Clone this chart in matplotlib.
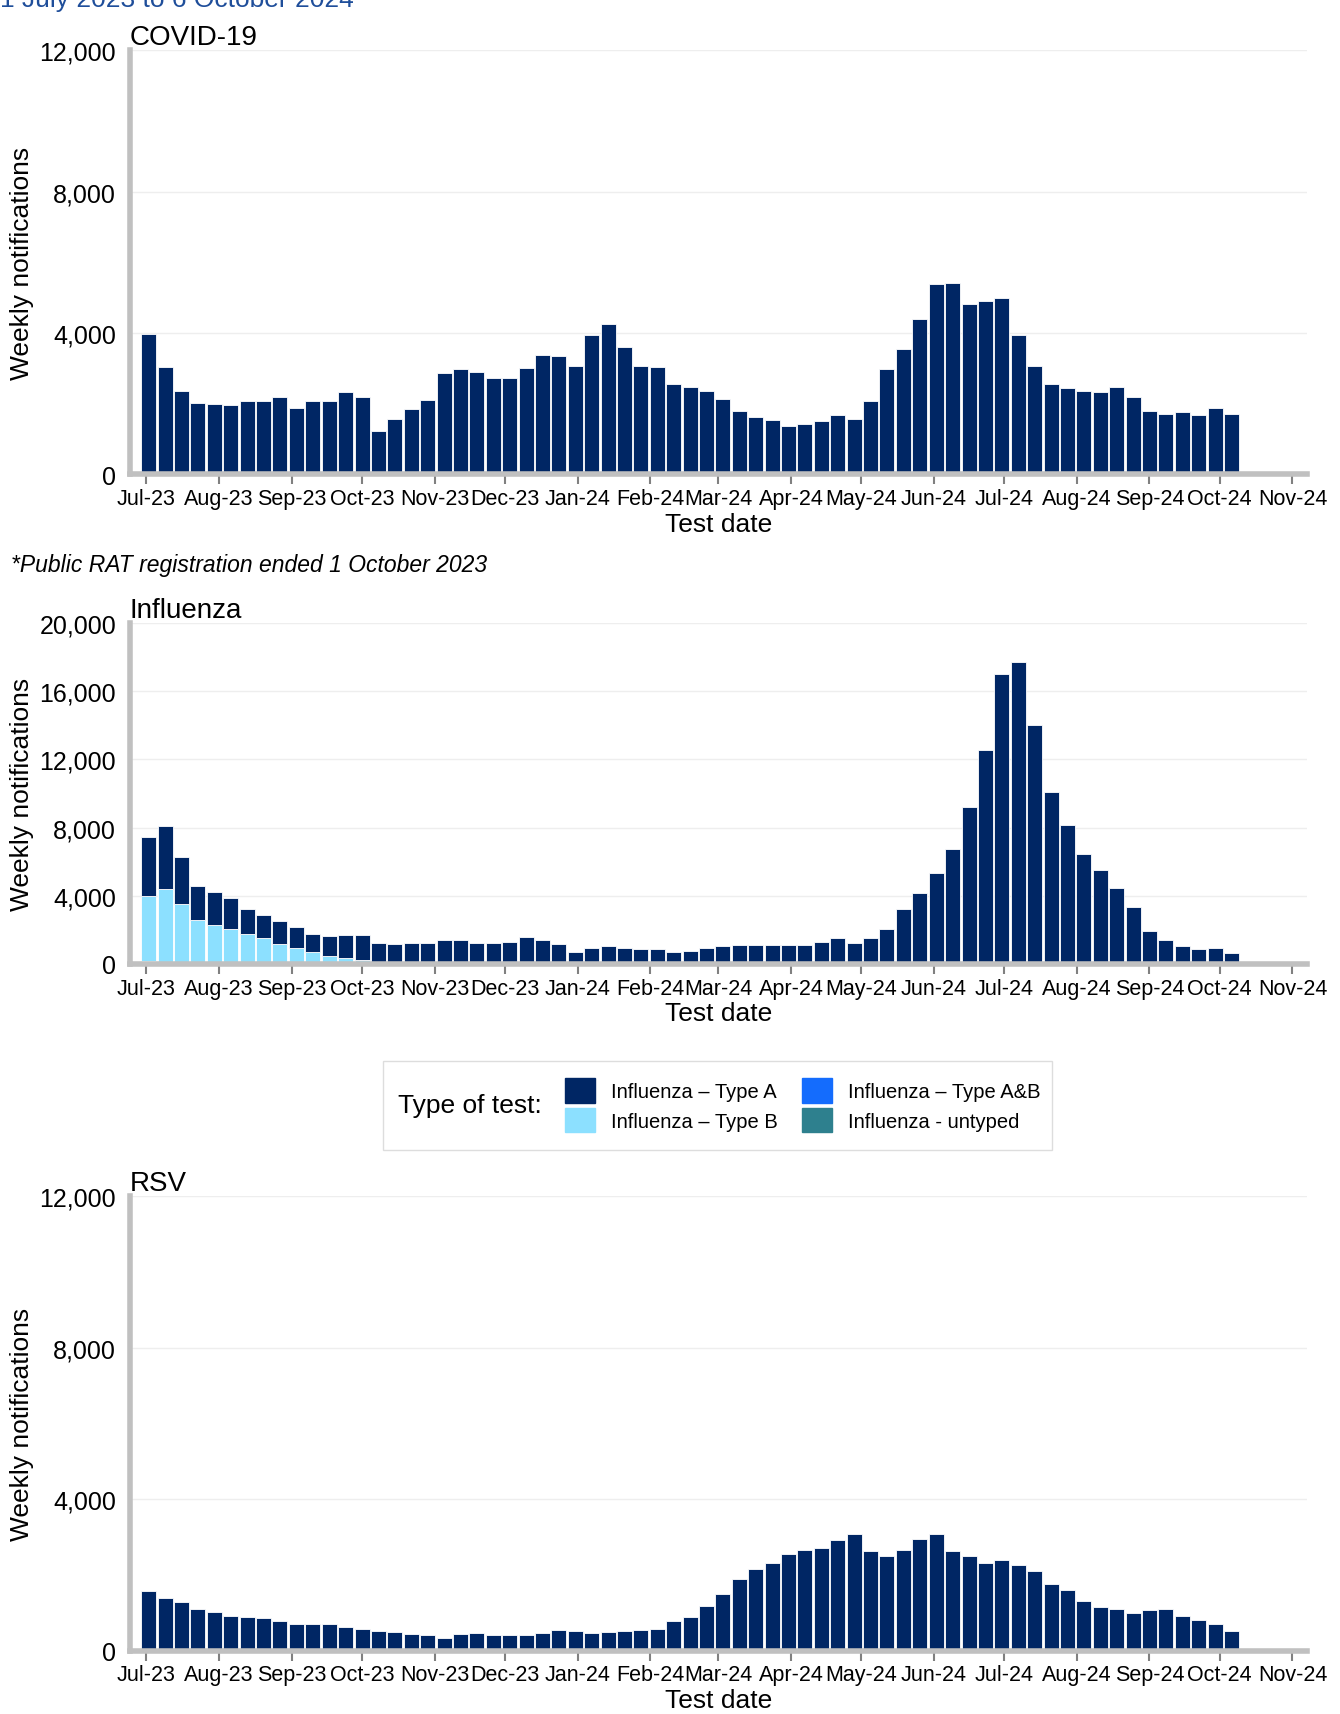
import numpy as np
import pandas as pd
import matplotlib
matplotlib.use('Agg')
import matplotlib.pyplot as plt
import matplotlib.dates as mdates
from matplotlib.patches import Patch, Rectangle

plt.rcParams['font.family'] = ['Liberation Sans', 'DejaVu Sans']

weeks = pd.date_range('2023-07-02', periods=67, freq='7D')

covid = [3970, 3040, 2360, 2010, 1980, 1950, 2080, 2080, 2170, 1860, 2080, 2080,
         2330, 2170, 1210, 1550, 1830, 2110, 2850, 2980, 2880, 2730, 2730, 3010,
         3380, 3350, 3070, 3940, 4250, 3600, 3070, 3040, 2540, 2480, 2360, 2140,
         1800, 1610, 1520, 1360, 1420, 1490, 1670, 1550, 2080, 2980, 3540, 4400,
         5370, 5400, 4810, 4900, 5000, 3940, 3070, 2540, 2450, 2360, 2330, 2480,
         2170, 1800, 1710, 1770, 1670, 1860, 1710]

flu_total = [7420, 8060, 6260, 4580, 4190, 3870, 3230, 2840, 2520, 2130, 1740, 1610,
             1680, 1680, 1230, 1160, 1230, 1230, 1420, 1420, 1230, 1230, 1290, 1550,
             1420, 1160, 710, 900, 1030, 900, 840, 840, 710, 770, 900, 1030,
             1100, 1100, 1100, 1100, 1100, 1290, 1480, 1230, 1480, 2060, 3230, 4130,
             5350, 6710, 9220, 12580, 17030, 17740, 14000, 10060, 8130, 6450, 5480, 4450,
             3350, 1940, 1420, 1030, 840, 900, 650]
flu_b = [3850, 4350, 3390, 2520, 2260, 2060, 1740, 1480, 1160, 900, 710, 450,
         320, 190, 60] + [0] * 52
flu_untyped = [150, 40, 30] + [0] * 64
flu_ab = [0, 0, 60, 30] + [0] * 63

rsv = [1570, 1400, 1290, 1090, 1030, 920, 890, 860, 770, 710, 690, 690,
       630, 570, 510, 490, 430, 400, 340, 430, 460, 400, 400, 400,
       460, 540, 510, 460, 490, 510, 540, 570, 770, 890, 1170, 1490,
       1890, 2140, 2310, 2540, 2660, 2720, 2920, 3090, 2630, 2490, 2660, 2940,
       3090, 2630, 2490, 2310, 2400, 2260, 2090, 1770, 1600, 1310, 1140, 1110,
       1000, 1060, 1090, 920, 800, 710, 510]

NAVY = '#002664'
LIGHT = '#8CE0FF'
BLUE = '#146CFD'
TEAL = '#2E808E'
GREY = '#C0C0C0'


def style_axis(ax, ymax, step, title):
    ax.set_ylim(0, ymax)
    ax.set_yticks(np.arange(0, ymax + 1, step))
    ax.yaxis.set_major_formatter(matplotlib.ticker.FuncFormatter(lambda v, p: f'{v:,.0f}'))
    ax.set_xlim(pd.Timestamp('2023-06-24'), pd.Timestamp('2024-11-07'))
    ax.xaxis.set_major_locator(mdates.MonthLocator())
    ax.xaxis.set_major_formatter(mdates.DateFormatter('%b-%y'))
    ax.grid(axis='y', color='#EEEEEE', linewidth=1)
    ax.set_axisbelow(True)
    for s in ('top', 'right'):
        ax.spines[s].set_visible(False)
    for s in ('left', 'bottom'):
        ax.spines[s].set_color(GREY)
        ax.spines[s].set_linewidth(4)
    ax.tick_params(axis='x', length=7, width=1.5, color='#808080', labelsize=15.5, pad=3)
    ax.tick_params(axis='y', length=0, labelsize=18, pad=10)
    ax.set_xlabel('Test date', fontsize=19, labelpad=2)
    ax.set_ylabel('Weekly notifications', fontsize=19)
    ax.set_title(title, loc='left', fontsize=20, pad=2)


fig = plt.figure(figsize=(13.4, 17.15), dpi=100)
bw = 6.4

ax1 = fig.add_axes([0.097, 0.723, 0.878, 0.247])
ax1.bar(weeks, covid, width=bw, color=NAVY, edgecolor='white', linewidth=0.6)
style_axis(ax1, 12000, 4000, 'COVID-19')

ax2 = fig.add_axes([0.097, 0.4375, 0.878, 0.1985])
untyped = np.array(flu_untyped)
ab = np.array(flu_ab)
b = np.array(flu_b)
a = np.array(flu_total) - b - untyped - ab
ax2.bar(weeks, untyped, width=bw, color=TEAL, edgecolor='white', linewidth=0.6)
ax2.bar(weeks, ab, bottom=untyped, width=bw, color=BLUE, edgecolor='white', linewidth=0.6)
ax2.bar(weeks, b, bottom=untyped + ab, width=bw, color=LIGHT, edgecolor='white', linewidth=0.6)
ax2.bar(weeks, a, bottom=untyped + ab + b, width=bw, color=NAVY, edgecolor='white', linewidth=0.6)
style_axis(ax2, 20000, 4000, 'Influenza')

ax3 = fig.add_axes([0.097, 0.037, 0.878, 0.265])
ax3.bar(weeks, rsv, width=bw, color=NAVY, edgecolor='white', linewidth=0.6)
style_axis(ax3, 12000, 4000, 'RSV')

fig.text(0.0, 1.0, '1 July 2023 to 6 October 2024', color='#1F4E9A', fontsize=19, va='center')
fig.text(0.008, 0.670, '*Public RAT registration ended 1 October 2023',
         fontsize=16.5, style='italic', va='center')

# legend: frame, title on the left, 2x2 entries
fig.patches.append(Rectangle((0.286, 0.329), 0.499, 0.052, transform=fig.transFigure,
                             facecolor='white', edgecolor='#DDDDDD', linewidth=1))
fig.text(0.297, 0.355, 'Type of test:', fontsize=19, va='center')
handles = [Patch(color=NAVY, label='Influenza – Type A'),
           Patch(color=LIGHT, label='Influenza – Type B'),
           Patch(color=BLUE, label='Influenza – Type A&B'),
           Patch(color=TEAL, label='Influenza - untyped')]
fig.legend(handles=handles, ncol=2, loc='center left', bbox_to_anchor=(0.408, 0.355),
           fontsize=14.5, frameon=False, handlelength=1.5, handleheight=1.5,
           columnspacing=1.2, labelspacing=0.25, handletextpad=0.8)

fig.savefig('out.png', dpi=100)
